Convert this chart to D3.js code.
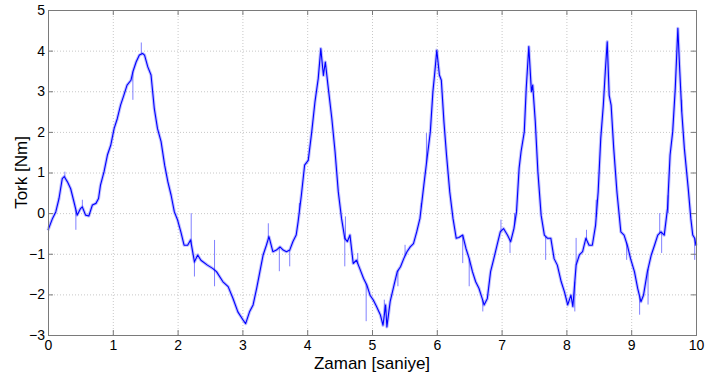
<!DOCTYPE html>
<html>
<head>
<meta charset="utf-8">
<script src="https://cdn.jsdelivr.net/npm/d3@7"></script>
<style>
  body { margin: 0; background: #fff; }
  text { font-family: "Liberation Sans", Arial, Helvetica, sans-serif; fill: #000; }
</style>
</head>
<body>
<svg></svg>
<script>
// zaman (s) ve tork (Nm) degerleri
var time = [0.00, 0.07, 0.12, 0.17, 0.22, 0.25, 0.30, 0.35, 0.40, 0.45, 0.50, 0.53, 0.58, 0.63, 0.685, 0.74, 0.78, 0.81, 0.865, 0.917,
  0.968, 1.02, 1.07, 1.12, 1.17, 1.22, 1.28, 1.31, 1.36, 1.41, 1.46, 1.49, 1.54, 1.59, 1.64, 1.69, 1.745, 1.80, 1.85, 1.90,
  1.95, 2.00, 2.05, 2.10, 2.155, 2.20, 2.26, 2.31, 2.36, 2.46, 2.54, 2.60, 2.70, 2.78, 2.855, 2.93, 3.01, 3.05, 3.11, 3.165,
  3.22, 3.27, 3.32, 3.37, 3.41, 3.47, 3.525, 3.58, 3.63, 3.68, 3.73, 3.78, 3.83, 3.86, 3.91, 3.96, 4.016, 4.07, 4.12, 4.17,
  4.21, 4.25, 4.28, 4.32, 4.38, 4.43, 4.48, 4.53, 4.58, 4.62, 4.66, 4.71, 4.76, 4.81, 4.87, 4.92, 4.97, 5.02, 5.07, 5.13,
  5.17, 5.21, 5.23, 5.28, 5.34, 5.39, 5.44, 5.49, 5.54, 5.59, 5.64, 5.69, 5.74, 5.80, 5.85, 5.90, 5.94, 5.97, 6.00, 6.04,
  6.07, 6.11, 6.15, 6.20, 6.25, 6.30, 6.34, 6.40, 6.45, 6.50, 6.55, 6.60, 6.65, 6.70, 6.73, 6.78, 6.83, 6.88, 6.93, 6.98,
  7.03, 7.09, 7.14, 7.19, 7.23, 7.27, 7.30, 7.35, 7.38, 7.42, 7.46, 7.48, 7.52, 7.56, 7.61, 7.66, 7.71, 7.76, 7.81, 7.86,
  7.92, 7.97, 8.02, 8.07, 8.10, 8.15, 8.20, 8.25, 8.30, 8.35, 8.40, 8.45, 8.49, 8.53, 8.57, 8.60, 8.63, 8.66, 8.69, 8.73,
  8.78, 8.84, 8.89, 8.94, 8.99, 9.05, 9.10, 9.15, 9.19, 9.25, 9.31, 9.36, 9.41, 9.46, 9.51, 9.56, 9.60, 9.64, 9.68, 9.72,
  9.75, 9.78, 9.82, 9.88, 9.92, 9.95, 9.98, 10.00];
var torque = [-0.42, -0.13, 0.03, 0.36, 0.85, 0.90, 0.77, 0.60, 0.28, -0.05, 0.11, 0.15, -0.05, -0.07, 0.20, 0.24, 0.36, 0.69, 1.02, 1.43,
  1.67, 2.08, 2.33, 2.66, 2.90, 3.15, 3.27, 3.48, 3.72, 3.89, 3.93, 3.89, 3.60, 3.40, 2.58, 2.08, 1.76, 1.18, 0.77, 0.44,
  0.03, -0.17, -0.46, -0.79, -0.79, -0.66, -1.20, -1.03, -1.16, -1.28, -1.36, -1.44, -1.69, -1.81, -2.10, -2.43, -2.63, -2.72, -2.43, -2.26,
  -1.85, -1.44, -1.03, -0.79, -0.58, -0.95, -0.91, -0.83, -0.91, -0.95, -0.91, -0.70, -0.54, -0.21, 0.44, 1.18, 1.30, 2.00, 2.74, 3.31,
  4.05, 3.39, 3.72, 3.15, 2.33, 1.51, 0.52, -0.13, -0.62, -0.70, -0.54, -1.24, -1.16, -1.36, -1.61, -1.77, -2.02, -2.14, -2.30, -2.51,
  -2.76, -2.26, -2.80, -2.18, -1.77, -1.44, -1.32, -1.12, -0.95, -0.83, -0.75, -0.46, -0.13, 0.69, 1.35, 2.00, 2.99, 3.48, 4.01, 3.40,
  3.27, 2.25, 1.43, 0.52, -0.13, -0.62, -0.60, -0.54, -0.87, -1.12, -1.44, -1.69, -1.85, -2.10, -2.26, -2.10, -1.44, -1.12, -0.79, -0.46,
  -0.38, -0.54, -0.70, -0.38, 0.03, 1.10, 1.51, 2.00, 3.07, 4.10, 2.99, 3.15, 2.25, 1.02, -0.05, -0.54, -0.62, -0.62, -1.12, -1.28,
  -1.69, -1.94, -2.26, -2.02, -2.30, -1.28, -1.03, -0.95, -0.62, -0.79, -0.79, -0.30, 0.52, 1.84, 2.66, 3.48, 4.22, 2.90, 2.66, 1.60,
  0.52, -0.46, -0.54, -0.79, -1.12, -1.44, -1.85, -2.18, -2.02, -1.44, -1.03, -0.79, -0.54, -0.46, -0.54, 0.11, 1.43, 2.00, 3.07, 4.55,
  3.48, 2.50, 1.60, 0.61, -0.13, -0.54, -0.62, -0.80];

// gurultu sivrilikleri: [zaman, tepe degeri]
var spikes = [[0.26, 1.02], [0.43, -0.41], [0.53, 0.33], [1.31, 2.79], [1.44, 4.2], [2.21, 0.0], [2.26, -1.56], [2.57, -0.66],
  [2.57, -1.8], [3.40, -0.25], [3.57, -1.43], [3.73, -1.31], [3.88, 0.25], [4.58, -1.31], [4.59, -0.08], [4.78, -0.98],
  [4.91, -2.66], [5.19, -2.13], [5.40, -1.8], [5.51, -0.78], [5.76, 0.25], [5.84, 1.97], [6.40, -1.23], [6.50, -1.8],
  [6.71, -2.42], [6.99, -0.16], [7.13, -0.98], [7.20, 0.0], [7.68, -1.15], [8.13, -2.42], [8.15, -0.61], [8.31, -0.41],
  [8.46, 0.33], [8.93, -1.15], [9.13, -2.5], [9.26, -2.25], [9.44, 0.0], [9.47, -0.98], [9.57, 0.0], [9.78, 2.79], [9.98, -1.15]];

var xTicks = [0, 1, 2, 3, 4, 5, 6, 7, 8, 9, 10];
var yTicks = [-3, -2, -1, 0, 1, 2, 3, 4, 5];

var width = 706, height = 376;
var margin = { top: 10, right: 10, bottom: 41, left: 48 };

var svg = d3.select("svg").attr("width", width).attr("height", height);

var x = d3.scaleLinear().domain([0, 10]).range([margin.left, width - margin.right]);
var y = d3.scaleLinear().domain([-3, 5]).range([height - margin.bottom, margin.top]);

// izgara
var grid = svg.append("g").attr("stroke", "#c8c8c8").attr("stroke-dasharray", "1,2");
grid.selectAll(".gx").data(xTicks.slice(1, -1)).enter().append("line")
  .attr("x1", function (d) { return x(d) + 0.5; })
  .attr("x2", function (d) { return x(d) + 0.5; })
  .attr("y1", y(-3)).attr("y2", y(5));
grid.selectAll(".gy").data(yTicks.slice(1, -1)).enter().append("line")
  .attr("y1", function (d) { return y(d) + 0.5; })
  .attr("y2", function (d) { return y(d) + 0.5; })
  .attr("x1", x(0)).attr("x2", x(10));

// sinyal
var points = time.map(function (t, i) { return [t, torque[i]]; });
var line = d3.line().x(function (d) { return x(d[0]); }).y(function (d) { return y(d[1]); });

var bis = d3.bisector(function (d) { return d; }).left;
function valueAt(t) {
  var i = Math.max(1, Math.min(time.length - 1, bis(time, t)));
  var t0 = time[i - 1], t1 = time[i];
  return torque[i - 1] + (torque[i] - torque[i - 1]) * (t - t0) / (t1 - t0);
}

var plot = svg.append("g");
plot.selectAll(".spike").data(spikes).enter().append("line")
  .attr("x1", function (d) { return x(d[0]); })
  .attr("x2", function (d) { return x(d[0]); })
  .attr("y1", function (d) { return y(valueAt(d[0])); })
  .attr("y2", function (d) { return y(d[1]); })
  .attr("stroke", "#4d4dff").attr("stroke-width", 1).attr("opacity", 0.7);

plot.append("path").datum(points).attr("d", line)
  .attr("fill", "none").attr("stroke", "#0000ff").attr("stroke-width", 3.2)
  .attr("stroke-opacity", 0.25).attr("stroke-linejoin", "round");
plot.append("path").datum(points).attr("d", line)
  .attr("fill", "none").attr("stroke", "#0000ff").attr("stroke-width", 1.1)
  .attr("stroke-linejoin", "round");

// eksenler (MATLAB tarzi ic tikler)
var axisColor = "#7a7a7a";
function style(g) {
  g.select(".domain").remove();
  g.selectAll(".tick line").attr("stroke", axisColor);
  g.selectAll(".tick text").attr("font-size", 14).attr("fill", "#000")
    .attr("font-family", "'Liberation Sans', Arial, sans-serif");
}

svg.append("g").attr("transform", "translate(0," + y(-3) + ")")
  .call(d3.axisBottom(x).tickValues(xTicks).tickFormat(d3.format("d")).tickSize(-5).tickPadding(5))
  .call(style);
svg.append("g").attr("transform", "translate(0," + y(5) + ")")
  .call(d3.axisTop(x).tickValues(xTicks).tickSize(-5).tickFormat(""))
  .call(style);
svg.append("g").attr("transform", "translate(" + x(0) + ",0)")
  .call(d3.axisLeft(y).tickValues(yTicks).tickFormat(d3.format("d")).tickSize(-5).tickPadding(3))
  .call(style);
svg.append("g").attr("transform", "translate(" + x(10) + ",0)")
  .call(d3.axisRight(y).tickValues(yTicks).tickSize(-5).tickFormat(""))
  .call(style);

svg.append("rect")
  .attr("x", x(0) + 0.5).attr("y", y(5) + 0.5)
  .attr("width", x(10) - x(0)).attr("height", y(-3) - y(5))
  .attr("fill", "none").attr("stroke", axisColor).attr("stroke-width", 1);

// eksen basliklari
svg.append("text")
  .attr("x", (x(0) + x(10)) / 2)
  .attr("y", 369)
  .attr("text-anchor", "middle")
  .attr("font-size", 17)
  .text("Zaman [saniye]");

svg.append("text")
  .attr("transform", "translate(27," + (y(-3) + y(5)) / 2 + ") rotate(-90)")
  .attr("text-anchor", "middle")
  .attr("font-size", 17)
  .text("Tork [Nm]");
</script>
</body>
</html>
